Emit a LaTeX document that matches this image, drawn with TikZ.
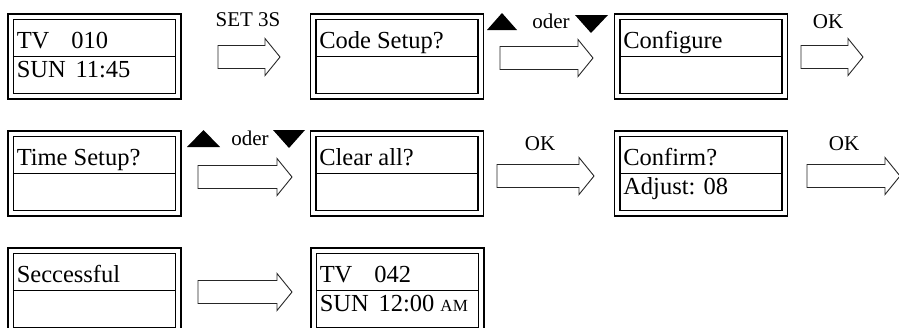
\documentclass[tikz,border=0pt]{standalone}
\usepackage{fontspec}
\setmainfont{Liberation Serif}
\usetikzlibrary{calc,positioning}

\tikzset{
  lcd/.style={draw, double, double distance=4pt, line width=1.4pt,
    minimum width=167.5pt, minimum height=79.5pt, inner sep=0pt},
  lcdline/.style={line width=1.4pt},
  lcdtext/.style={anchor=base west, inner sep=0pt, font=\fontsize{24.5}{28}\selectfont},
  keylabel/.style={anchor=base, inner sep=0pt, font=\fontsize{21}{24}\selectfont},
  blockarrow/.style={draw=black!85, line width=0.9pt, line join=miter},
}

% display: name, x, y, upper row, lower row
\newcommand{\lcd}[5]{%
  \node[lcd] (#1) at (#2,#3) {};
  \draw[lcdline] ([xshift=2.75pt]#1.west) -- ([xshift=-2.75pt]#1.east);
  \node[lcdtext] (#1-up) at ([xshift=6.5pt,yshift=8pt]#1.west) {#4};
  \node[lcdtext] (#1-low) at ([xshift=6.5pt,yshift=-21pt]#1.west) {#5};
}
% hollow key arrow from tail coordinate to tip coordinate
\newcommand{\keyarrow}[2]{%
  \draw[blockarrow] let \p1=(#1), \p2=(#2) in
    (\x1,\y1+11.5pt) -- (\x2-15pt,\y1+11.5pt) -- (\x2-15pt,\y1+18.5pt) -- (\x2,\y1)
    -- (\x2-15pt,\y1-18.5pt) -- (\x2-15pt,\y1-11.5pt) -- (\x1,\y1-11.5pt) -- cycle;
}

\begin{document}
\begin{tikzpicture}[x=1pt,y=-1pt]
  \useasboundingbox (0,0) rectangle (899,327);

  % row 1
  \lcd{start}{94.5}{56.5}{TV\hspace{0.9em}010}{SUN\hspace{0.4em}11:45}
  \lcd{code}{397}{56.5}{Code Setup?}{}
  \lcd{config}{701}{56.5}{Configure}{}

  \coordinate (set-s) at (218,57); \coordinate (set-e) at (280,57);
  \keyarrow{set-s}{set-e}
  \node[keylabel] (set) at (248,26) {SET 3S};

  \coordinate (sel1-s) at (500,58); \coordinate (sel1-e) at (593,58);
  \keyarrow{sel1-s}{sel1-e}
  \fill (487,30) -- (517,30) -- (502,13) -- cycle;
  \node[keylabel] (oder1) at (551,28) {oder};
  \fill (575,15) -- (608,15) -- (591,33) -- cycle;

  \coordinate (ok1-s) at (801,57); \coordinate (ok1-e) at (863,57);
  \keyarrow{ok1-s}{ok1-e}
  \node[keylabel] (ok1) at (828,28) {OK};

  % row 2
  \lcd{time}{94.5}{173.5}{Time Setup?}{}
  \lcd{clear}{397}{173.5}{Clear all?}{}
  \lcd{confirm}{701}{173.5}{Confirm?}{Adjust: 08}

  \coordinate (sel2-s) at (198,177); \coordinate (sel2-e) at (292,177);
  \keyarrow{sel2-s}{sel2-e}
  \fill (187,147) -- (220,147) -- (203.5,130) -- cycle;
  \node[keylabel] (oder2) at (250,145) {oder};
  \fill (273,130) -- (305,130) -- (289,148) -- cycle;

  \coordinate (ok2-s) at (497,176); \coordinate (ok2-e) at (594,176);
  \keyarrow{ok2-s}{ok2-e}
  \node[keylabel] (ok2) at (540,150) {OK};

  \coordinate (ok3-s) at (807,176); \coordinate (ok3-e) at (900,176);
  \keyarrow{ok3-s}{ok3-e}
  \node[keylabel] (ok3) at (844,150) {OK};

  % row 3
  \lcd{done}{94.5}{290.5}{Seccessful}{}
  \lcd{final}{397.5}{290.5}{TV\hspace{0.9em}042}{SUN\hspace{0.4em}12:00 {\fontsize{17}{20}\selectfont AM}}

  \coordinate (next-s) at (198,292); \coordinate (next-e) at (292,292);
  \keyarrow{next-s}{next-e}
\end{tikzpicture}
\end{document}
